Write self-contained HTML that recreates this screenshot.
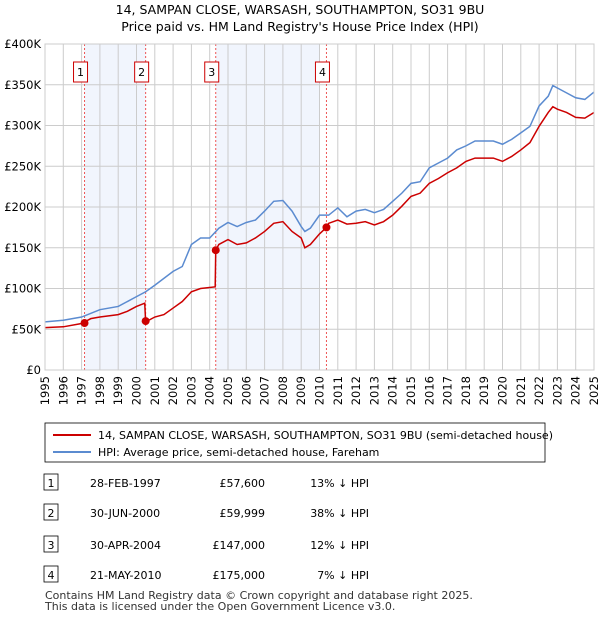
<!DOCTYPE html>
<html><head><meta charset="utf-8"><style>
body{margin:0;background:#fff;font-family:"Liberation Sans","DejaVu Sans",sans-serif;}
svg text{font-family:"DejaVu Sans","Liberation Sans",sans-serif;}
</style></head><body>
<svg id="c" width="600" height="620" xmlns="http://www.w3.org/2000/svg">
<text x="300" y="14" font-size="12.5" text-anchor="middle">14, SAMPAN CLOSE, WARSASH, SOUTHAMPTON, SO31 9BU</text>
<text x="300" y="31" font-size="12.5" text-anchor="middle">Price paid vs. HM Land Registry's House Price Index (HPI)</text>
<g id="plot"></g>
<rect x="45" y="423" width="500" height="39" fill="#fff" stroke="#000" stroke-width="0.8"/>
<line x1="53" y1="435" x2="91" y2="435" stroke="#cc0000" stroke-width="2"/>
<text x="98" y="439" font-size="11">14, SAMPAN CLOSE, WARSASH, SOUTHAMPTON, SO31 9BU (semi-detached house)</text>
<line x1="53" y1="452" x2="91" y2="452" stroke="#5b8bd0" stroke-width="2"/>
<text x="98" y="456" font-size="11">HPI: Average price, semi-detached house, Fareham</text>
<g id="tbl" font-size="11"></g>
<text x="45" y="599" font-size="11" fill="#333">Contains HM Land Registry data © Crown copyright and database right 2025.</text>
<text x="45" y="610" font-size="11" fill="#333">This data is licensed under the Open Government Licence v3.0.</text>
</svg>
<script>
const hpiYears=[1995,1996,1997,1998,1999,2000,2000.5,2001,2002,2002.5,2003,2003.5,2004,2004.5,2005,2005.5,2006,2006.5,2007,2007.5,2008,2008.5,2009,2009.2,2009.5,2010,2010.5,2011,2011.5,2012,2012.5,2013,2013.5,2014,2014.5,2015,2015.5,2016,2016.5,2017,2017.5,2018,2018.5,2019,2019.5,2020,2020.5,2021,2021.5,2022,2022.5,2022.75,2023,2023.5,2024,2024.5,2025];
const hpiValues=[59,61,65,74,78,90,96,104,121,127,154,162,162,174,181,176,181,184,195,207,208,195,176,170,174,190,190,199,188,195,197,193,197,207,217,229,231,248,254,260,270,275,281,281,281,277,283,291,299,324,336,349,346,340,334,332,341];
const priceYears=[1995,1996,1997,1997.5,1998,1999,1999.5,2000,2000.45,2000.5,2001,2001.5,2002,2002.5,2003,2003.5,2004.3,2004.33,2004.5,2005,2005.5,2006,2006.5,2007,2007.5,2008,2008.5,2009,2009.2,2009.5,2010,2010.38,2010.5,2011,2011.5,2012,2012.5,2013,2013.5,2014,2014.5,2015,2015.5,2016,2016.5,2017,2017.5,2018,2018.5,2019,2019.5,2020,2020.5,2021,2021.5,2022,2022.5,2022.75,2023,2023.5,2024,2024.5,2025];
const priceValues=[52,53,57,63,65,68,72,78,82,59,65,68,76,84,96,100,102,147,154,160,154,156,162,170,180,182,170,162,150,154,167,175,180,184,179,180,182,178,182,190,201,213,217,229,235,242,248,256,260,260,260,256,262,270,279,299,316,323,320,316,310,309,316];
const saleLabels=["1","2","3","4"];
const saleYears=[1997.16,2000.5,2004.33,2010.38];
const saleValues=[57.6,59.999,147,175];
const saleDates=["28-FEB-1997","30-JUN-2000","30-APR-2004","21-MAY-2010"];
const salePrices=["£57,600","£59,999","£147,000","£175,000"];
const salePcts=["13% ↓ HPI","38% ↓ HPI","12% ↓ HPI","7% ↓ HPI"];
const shadeBands=[[1997.16,2000.5],[2004.33,2010.0]];
const yTicks=[0,50,100,150,200,250,300,350,400];
const yTickLabels=["£0","£50K","£100K","£150K","£200K","£250K","£300K","£350K","£400K"];
const x0=45,x1=594,y0=370,yTop=44;
const X=t=>x0+(t-1995)/30*(x1-x0);
const Y=v=>y0-v/400*(y0-yTop);
const NS="http://www.w3.org/2000/svg";
const g=document.getElementById('plot');
function mk(tag,attrs,parent){const e=document.createElementNS(NS,tag);for(const k in attrs)e.setAttribute(k,attrs[k]);(parent||g).appendChild(e);return e;}
shadeBands.forEach(b=>{const r=mk('rect',{x:X(b[0]),y:yTop,width:X(b[1])-X(b[0]),height:y0-yTop,fill:'#eef3fc',opacity:0.8});

});
for(let yr=1995;yr<=2025;yr++){const l=mk('line',{x1:X(yr),x2:X(yr),y1:yTop,y2:y0,stroke:'#ccc','stroke-width':1});


const t=mk('text',{transform:`translate(${X(yr)+4},${y0+6}) rotate(-90)`,'font-size':11.5,'text-anchor':'end'});t.textContent=yr;

}
yTicks.forEach((v,i)=>{const l=mk('line',{x1:x0,x2:x1,y1:Y(v),y2:Y(v),stroke:'#ccc','stroke-width':1});


const t=mk('text',{x:x0-4,y:Y(v)+4,'font-size':11.5,'text-anchor':'end'});t.textContent=yTickLabels[i];

});
saleYears.forEach((s,i)=>{const l=mk('line',{x1:X(s),x2:X(s),y1:yTop,y2:y0,stroke:'#e55','stroke-width':1,'stroke-dasharray':'2,2'});


const r=mk('rect',{x:X(s)-11,y:62,width:14,height:20,fill:'#fff',stroke:'#cc0000','stroke-width':1});


const t=mk('text',{x:X(s)-4,y:76,'font-size':11,'text-anchor':'middle'});t.textContent=saleLabels[i];

});
const hp=mk('polyline',{points:hpiYears.map((t,i)=>X(t)+','+Y(hpiValues[i])).join(' '),fill:'none',stroke:'#5b8bd0','stroke-width':1.5});


const pp=mk('polyline',{points:priceYears.map((t,i)=>X(t)+','+Y(priceValues[i])).join(' '),fill:'none',stroke:'#cc0000','stroke-width':1.5});


saleYears.forEach((s,i)=>{const c=mk('circle',{cx:X(s),cy:Y(saleValues[i]),r:4,fill:'#cc0000'});

});
const ax=mk('rect',{x:x0,y:yTop,width:x1-x0,height:y0-yTop,fill:'none',stroke:'#ccc'});


const tb=document.getElementById('tbl');
const rowY=[483,513,545,575];
saleLabels.forEach((lab,i)=>{const y=rowY[i];
const r=mk('rect',{x:44,y:y-9,width:14,height:16,fill:'#fff',stroke:'#000','stroke-width':0.8},tb);


const cells=[[51,lab,'middle'],[90,saleDates[i],'start'],[265,salePrices[i],'end'],[369,salePcts[i],'end']];
cells.forEach(c=>{const t=mk('text',{x:c[0],y:y+4,'text-anchor':c[2]},tb);t.textContent=c[1];

});});
</script>
</body></html>
